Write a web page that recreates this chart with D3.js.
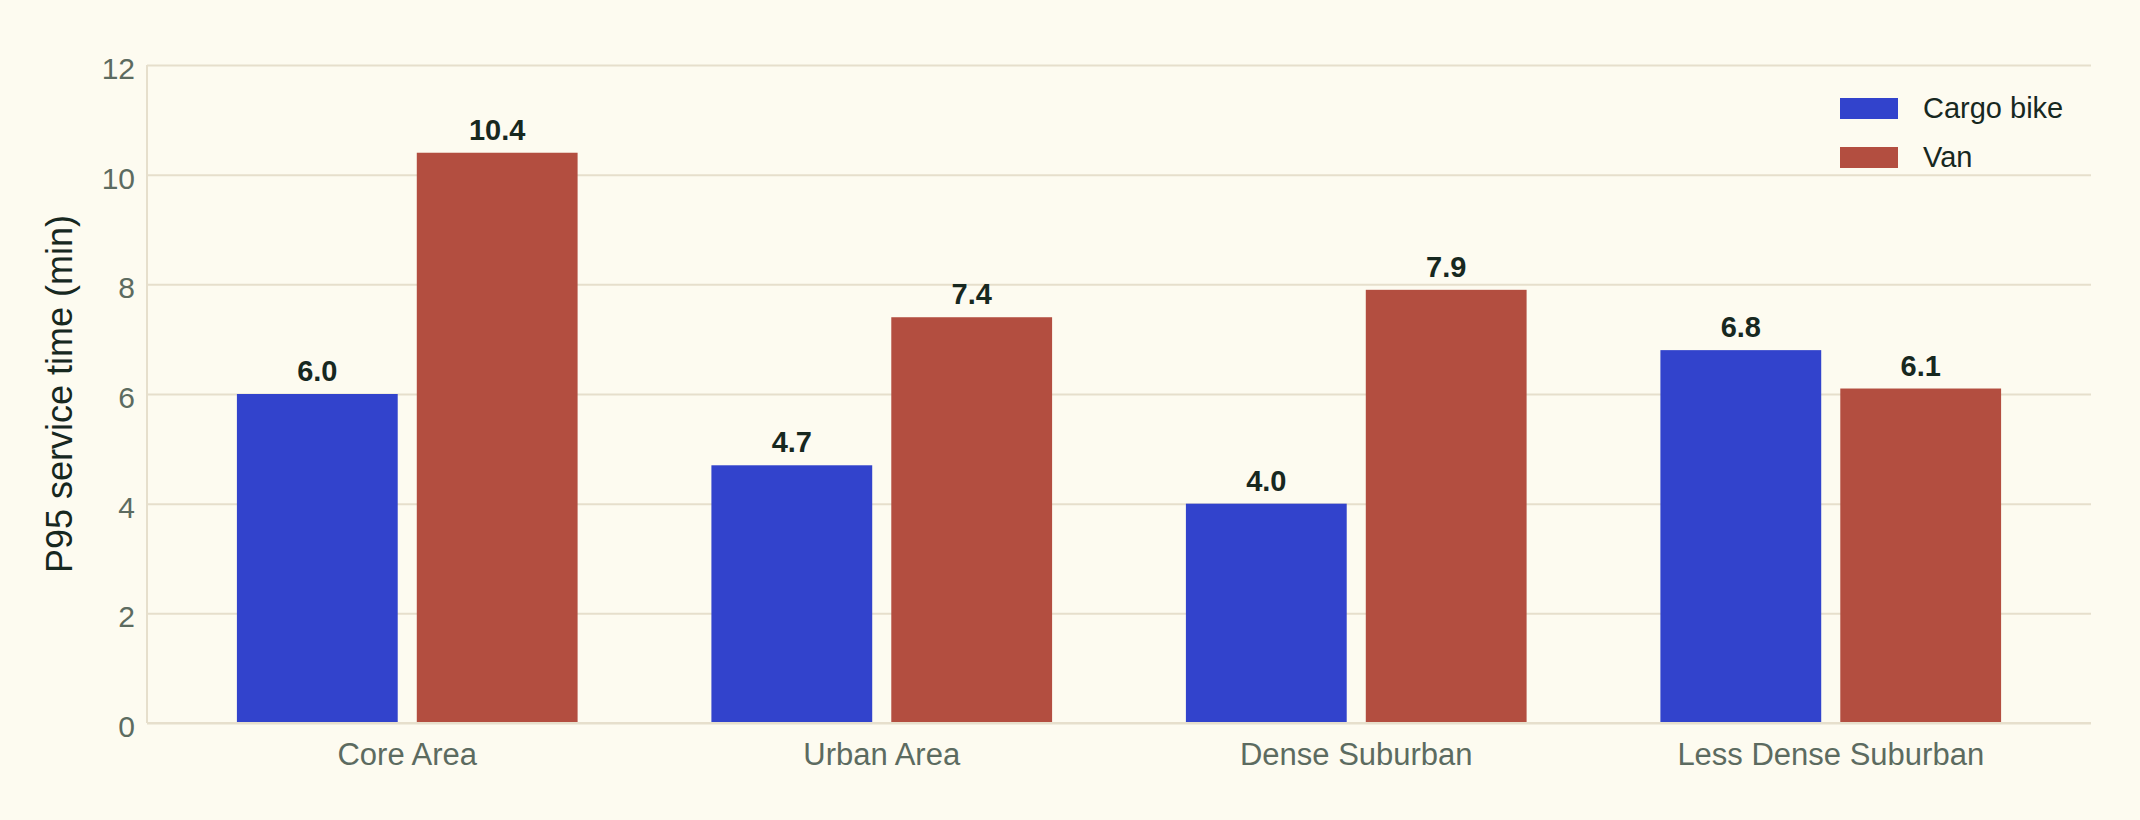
<!DOCTYPE html>
<html>
<head>
<meta charset="utf-8">
<script src="https://cdn.jsdelivr.net/npm/d3@7"></script>
<style>
  html, body { margin: 0; padding: 0; background: #fdfbf0; }
  svg { display: block; font-family: "Liberation Sans", Arial, Helvetica, sans-serif; }
</style>
</head>
<body>
<div id="chart"></div>
<script>
// P95 service time by area type
var categories = ["Core Area", "Urban Area", "Dense Suburban", "Less Dense Suburban"];
var seriesNames = ["Cargo bike", "Van"];
var cargoBike = [6.0, 4.7, 4.0, 6.8];
var van = [10.4, 7.4, 7.9, 6.1];
var yTicks = [0, 2, 4, 6, 8, 10, 12];
var colors = ["#3243cc", "#b34e40"];

var width = 2140, height = 820;
var plotLeft = 147, plotRight = 2091, plotTop = 65, plotBottom = 723;

var svg = d3.select("#chart").append("svg")
    .attr("width", width)
    .attr("height", height);

svg.append("rect")
    .attr("width", width)
    .attr("height", height)
    .attr("fill", "#fdfbf0");

var y = d3.scaleLinear()
    .domain([0, 12])
    .range([plotBottom, plotTop]);

var x0 = d3.scaleBand()
    .domain(categories)
    .range([170, 2068])
    .paddingInner(0.282)
    .paddingOuter(0.141);

var x1 = d3.scaleBand()
    .domain(seriesNames)
    .range([0, x0.bandwidth()])
    .paddingInner(0.106);

// gridlines
var yAxis = d3.axisLeft(y)
    .tickValues(yTicks)
    .tickSize(-(plotRight - plotLeft))
    .tickPadding(12)
    .tickFormat(d3.format("d"));

var gy = svg.append("g")
    .attr("transform", "translate(" + plotLeft + ",0)")
    .call(yAxis);
gy.select(".domain").remove();
gy.selectAll(".tick line")
    .attr("stroke", "#e6dfcc")
    .attr("stroke-width", 2);
gy.selectAll(".tick text")
    .attr("fill", "#5c6b60")
    .attr("font-size", 30)
    .attr("dy", "0.45em");

// left axis line
svg.append("line")
    .attr("x1", plotLeft).attr("x2", plotLeft)
    .attr("y1", plotTop).attr("y2", plotBottom)
    .attr("stroke", "#e6dfcc")
    .attr("stroke-width", 2);

var data = categories.map(function(c, i) {
  return {cat: c, values: [cargoBike[i], van[i]]};
});

var groups = svg.selectAll(".group")
    .data(data)
  .enter().append("g")
    .attr("class", "group")
    .attr("transform", function(d) { return "translate(" + x0(d.cat) + ",0)"; });

groups.selectAll("rect")
    .data(function(d) { return d.values.map(function(v, j) { return {name: seriesNames[j], value: v, j: j}; }); })
  .enter().append("rect")
    .attr("x", function(d) { return x1(d.name); })
    .attr("y", function(d) { return y(d.value); })
    .attr("width", x1.bandwidth())
    .attr("height", function(d) { return y(0) - y(d.value); })
    .attr("fill", function(d) { return colors[d.j]; });

groups.selectAll(".val")
    .data(function(d) { return d.values.map(function(v, j) { return {name: seriesNames[j], value: v}; }); })
  .enter().append("text")
    .attr("class", "val")
    .attr("x", function(d) { return x1(d.name) + x1.bandwidth() / 2; })
    .attr("y", function(d) { return y(d.value) - 13; })
    .attr("text-anchor", "middle")
    .attr("font-size", 29)
    .attr("font-weight", "bold")
    .attr("fill", "#17281f")
    .text(function(d) { return d.value.toFixed(1); });

// x axis
svg.append("line")
    .attr("x1", plotLeft).attr("x2", plotRight)
    .attr("y1", plotBottom).attr("y2", plotBottom)
    .attr("stroke", "#e6dfcc")
    .attr("stroke-width", 2);

var xAxis = d3.axisBottom(x0).tickSize(0).tickPadding(20);
var gx = svg.append("g")
    .attr("transform", "translate(0," + plotBottom + ")")
    .call(xAxis);
gx.select(".domain").remove();
gx.selectAll(".tick text")
    .attr("fill", "#5c6b60")
    .attr("font-size", 31);

// y title
svg.append("text")
    .attr("transform", "translate(72," + (plotTop + plotBottom) / 2 + ") rotate(-90)")
    .attr("text-anchor", "middle")
    .attr("font-size", 36)
    .attr("fill", "#17281f")
    .text("P95 service time (min)");

// legend
var legend = svg.selectAll(".legend")
    .data(seriesNames)
  .enter().append("g")
    .attr("class", "legend")
    .attr("transform", function(d, i) { return "translate(1840," + (98 + i * 49) + ")"; });

legend.append("rect")
    .attr("width", 58)
    .attr("height", 21)
    .attr("fill", function(d, i) { return colors[i]; });

legend.append("text")
    .attr("x", 83)
    .attr("y", 20)
    .attr("font-size", 29)
    .attr("fill", "#17281f")
    .text(function(d) { return d; });
</script>
</body>
</html>
